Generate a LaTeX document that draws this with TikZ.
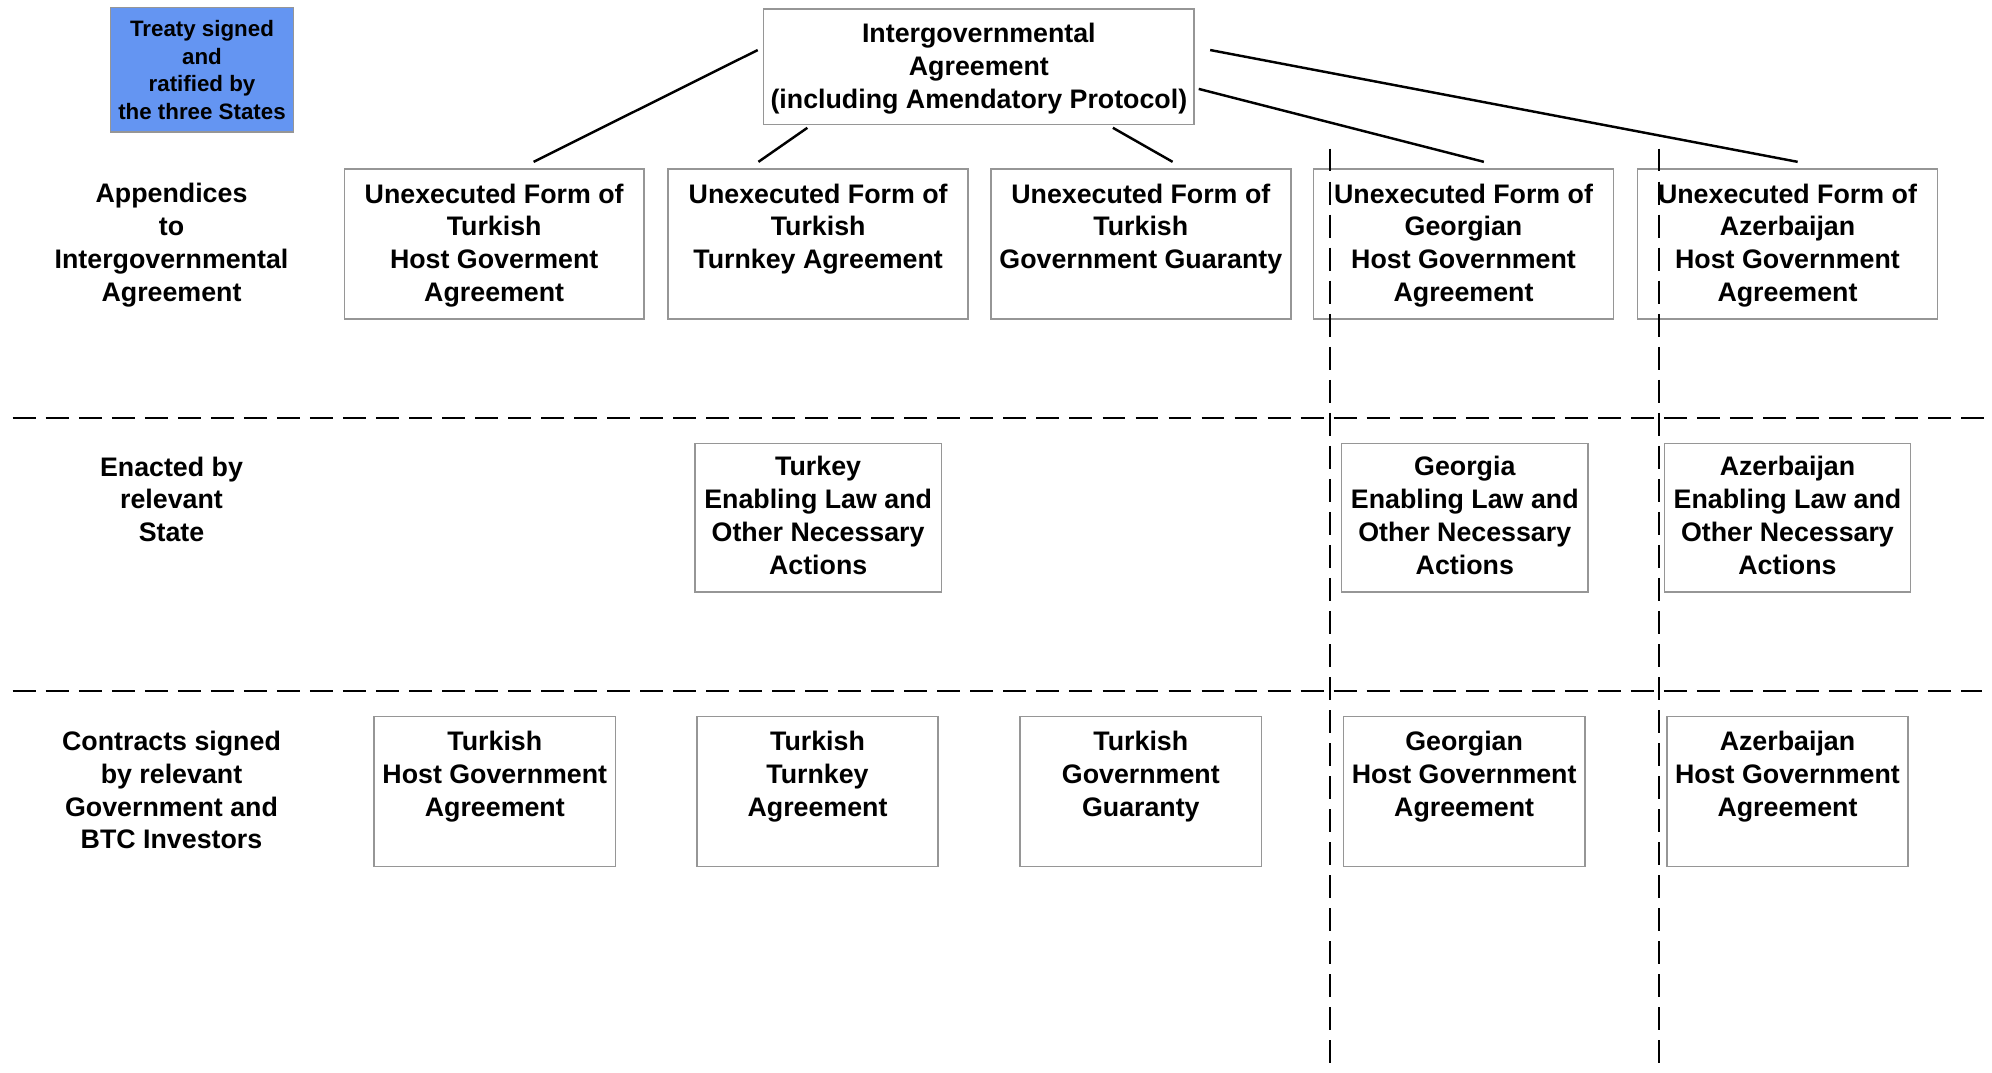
\documentclass[tikz,border=0pt]{standalone}
\usepackage{fontspec}
\setmainfont{Liberation Sans}
\usetikzlibrary{calc}
\definecolor{treatyblue}{RGB}{100,149,242}
\definecolor{boxgray}{RGB}{150,150,150}
\begin{document}
\begin{tikzpicture}[x=0.02cm,y=-0.02cm,
  every node/.style={align=center,inner sep=0pt,font=\fontsize{12}{14.7}\selectfont\bfseries},
  formbox/.style={draw=boxgray,line width=0.7pt,minimum width=4.72cm,minimum height=2.36cm,text depth=1.2pt},
  lawbox/.style={draw=boxgray,line width=0.7pt,minimum width=3.88cm,minimum height=2.34cm,text depth=2.2pt},
  deedbox/.style={draw=boxgray,line width=0.7pt,minimum width=3.8cm,minimum height=2.36cm,text depth=1.2pt},
  conn/.style={line width=1.1pt},
  divider/.style={line width=1.1pt,dash pattern=on 0.36cm off 0.16cm}]
\useasboundingbox (0,0) rectangle (1568,844);
\node[fill=treatyblue,draw=boxgray,line width=0.7pt,minimum width=2.88cm,minimum height=1.96cm,
  font=\fontsize{10}{12.3}\selectfont\bfseries] (treaty) at (159,55)
  {Treaty signed\\and\\ratified by\\the three States};
\node[draw=boxgray,line width=0.7pt,minimum width=6.78cm,minimum height=1.82cm,text depth=0.8pt] (iga) at (770.5,52.5)
  {Intergovernmental\\Agreement\\(including Amendatory Protocol)};
% row labels
\node (appx) at (135,193) {Appendices\\to\\Intergovernmental\\Agreement};
\node (enact) at (135,393) {Enacted by\\relevant\\State};
\node (contr) at (135,622) {Contracts signed\\by relevant\\Government and\\BTC Investors};
% appendices
\node[formbox] (ua1) at (389,192) {Unexecuted Form of\\Turkish\\Host Goverment\\Agreement};
\node[formbox] (ua2) at (644,192) {Unexecuted Form of\\Turkish\\Turnkey Agreement\\~};
\node[formbox] (ua3) at (898,192) {Unexecuted Form of\\Turkish\\Government Guaranty\\~};
\node[formbox] (ua4) at (1152,192) {Unexecuted Form of\\Georgian\\Host Government\\Agreement};
\node[formbox] (ua5) at (1407,192) {Unexecuted Form of\\Azerbaijan\\Host Government\\Agreement};
% enabling laws
\node[lawbox] (el1) at (644,407.5) {Turkey\\Enabling Law and\\Other Necessary\\Actions};
\node[lawbox] (el2) at (1153,407.5) {Georgia\\Enabling Law and\\Other Necessary\\Actions};
\node[lawbox] (el3) at (1407,407.5) {Azerbaijan\\Enabling Law and\\Other Necessary\\Actions};
% contracts
\node[deedbox] (hg1) at (389.5,623) {Turkish\\Host Government\\Agreement\\~};
\node[deedbox] (hg2) at (643.5,623) {Turkish\\Turnkey\\Agreement\\~};
\node[deedbox] (hg3) at (898,623) {Turkish\\Government\\Guaranty\\~};
\node[deedbox] (hg4) at (1152.5,623) {Georgian\\Host Government\\Agreement\\~};
\node[deedbox] (hg5) at (1407,623) {Azerbaijan\\Host Government\\Agreement\\~};
\draw[conn] ($(iga.north west)+(-4,33)$) -- ($(ua1.north)+(31,-5)$);
\draw[conn] ($(iga.south)+(-135,2)$) -- ($(ua2.north)+(-47,-5)$);
\draw[conn] ($(iga.south)+(105.5,2)$) -- ($(ua3.north)+(25,-5)$);
\draw[conn] ($(iga.east)+(3,17.5)$) -- ($(ua4.north)+(16,-5)$);
\draw[conn] ($(iga.north east)+(12,33)$) -- ($(ua5.north)+(8,-5)$);
\draw[divider] (10,329) -- (1568,329);
\draw[divider] (10,544) -- (1560,544);
\draw[divider] (1047,117) -- (1047,844);
\draw[divider] (1306,117) -- (1306,844);
\end{tikzpicture}
\end{document}
